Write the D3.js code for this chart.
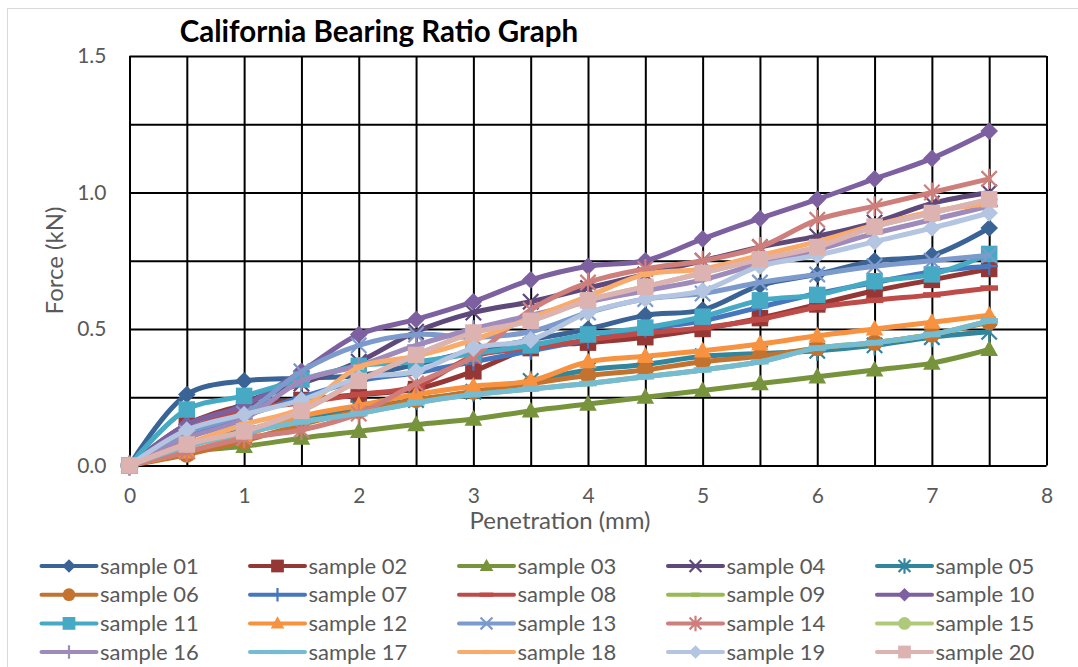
<!DOCTYPE html>
<html><head><meta charset="utf-8">
<script src="https://cdn.jsdelivr.net/npm/d3@7"></script>
<style>body{margin:0;background:#fff;} text{font-family:Lato,"Open Sans",sans-serif;}</style>
</head><body>
<script>
const penetration = [0,0.5,1,1.5,2,2.5,3,3.5,4,4.5,5,5.5,6,6.5,7,7.5];
const seriesNames = ["sample 01","sample 02","sample 03","sample 04","sample 05","sample 06","sample 07","sample 08","sample 09","sample 10",
  "sample 11","sample 12","sample 13","sample 14","sample 15","sample 16","sample 17","sample 18","sample 19","sample 20"];
const s01 = [0,0.26,0.31,0.32,0.33,0.37,0.42,0.46,0.50,0.55,0.57,0.66,0.70,0.75,0.77,0.87];
const s02 = [0,0.15,0.22,0.24,0.26,0.28,0.345,0.43,0.45,0.47,0.50,0.54,0.59,0.64,0.68,0.72];
const s03 = [0,0.05,0.07,0.10,0.125,0.15,0.17,0.20,0.225,0.25,0.275,0.30,0.325,0.35,0.375,0.425];
const s04 = [0,0.10,0.23,0.30,0.38,0.49,0.56,0.60,0.65,0.70,0.75,0.80,0.84,0.89,0.96,1.00];
const s05 = [0,0.08,0.13,0.17,0.21,0.24,0.27,0.31,0.35,0.37,0.40,0.41,0.42,0.44,0.47,0.49];
const s06 = [0,0.04,0.09,0.15,0.20,0.24,0.27,0.30,0.33,0.35,0.38,0.40,0.43,0.45,0.48,0.525];
const s07 = [0,0.10,0.18,0.25,0.31,0.34,0.38,0.42,0.46,0.50,0.53,0.58,0.63,0.67,0.71,0.73];
const s08 = [0,0.13,0.20,0.23,0.26,0.29,0.40,0.43,0.46,0.485,0.505,0.535,0.58,0.605,0.625,0.65];
const s09 = [0,0.07,0.12,0.16,0.19,0.23,0.26,0.28,0.30,0.325,0.35,0.38,0.43,0.45,0.48,0.53];
const s10 = [0,0.15,0.22,0.345,0.48,0.535,0.60,0.68,0.73,0.75,0.83,0.905,0.975,1.05,1.125,1.225];
const s11 = [0,0.205,0.255,0.315,0.365,0.38,0.41,0.44,0.48,0.505,0.545,0.605,0.625,0.675,0.70,0.775];
const s12 = [0,0.05,0.11,0.18,0.22,0.26,0.29,0.31,0.38,0.40,0.42,0.445,0.475,0.50,0.525,0.55];
const s13 = [0,0.12,0.19,0.345,0.44,0.48,0.47,0.49,0.56,0.61,0.63,0.67,0.70,0.73,0.75,0.77];
const s14 = [0,0.05,0.10,0.13,0.19,0.30,0.40,0.57,0.67,0.72,0.75,0.80,0.90,0.95,1.00,1.05];
const s15 = [0,0.077,0.125,0.20,0.31,0.405,0.487,0.53,0.605,0.655,0.705,0.755,0.80,0.875,0.925,0.975];
const s16 = [0,0.10,0.17,0.31,0.365,0.44,0.50,0.55,0.60,0.64,0.68,0.74,0.79,0.85,0.90,0.95];
const s17 = [0,0.07,0.12,0.16,0.19,0.23,0.26,0.28,0.30,0.325,0.35,0.38,0.43,0.45,0.48,0.53];
const s18 = [0,0.08,0.15,0.21,0.36,0.40,0.46,0.54,0.62,0.70,0.72,0.77,0.82,0.88,0.93,0.96];
const s19 = [0,0.13,0.187,0.24,0.32,0.345,0.43,0.46,0.56,0.61,0.64,0.73,0.77,0.82,0.87,0.925];
const s20 = [0,0.077,0.125,0.20,0.31,0.405,0.487,0.53,0.605,0.655,0.705,0.755,0.80,0.875,0.925,0.975];
const seriesValues = [s01,s02,s03,s04,s05,s06,s07,s08,s09,s10,s11,s12,s13,s14,s15,s16,s17,s18,s19,s20];
const seriesColors = ["#3A6496","#953735","#77933C","#5F497A","#31859C","#C3732F","#4677BE","#BE4B48","#98B954","#7D60A0",
  "#46AAC5","#F69240","#7C9ACC","#CE7E7B","#AFC97A","#9E8BBB","#75BBD1","#F9AB6B","#B3C5E0","#DDB3B2"];
const seriesMarkers = ["diamond","square","triangle","x","star","circle","plus","dash","shortdash","diamond",
  "square","triangle","x","star","circle","plus","dash","shortdash","diamond","square"];
const xTickLabels = [0,1,2,3,4,5,6,7,8];
const yTickLabels = [0,0.5,1.0,1.5];
const xGridValues = [0,0.5,1,1.5,2,2.5,3,3.5,4,4.5,5,5.5,6,6.5,7,7.5,8];
const yGridValues = [0,0.25,0.5,0.75,1.0,1.25,1.5];
const chartTitle = "California Bearing Ratio Graph";
const xTitle = "Penetration (mm)";
const yTitle = "Force (kN)";

const W = 1078, H = 667;
const svg = d3.select("body").append("svg").attr("width", W).attr("height", H);
svg.append("rect").attr("x",7.5).attr("y",8.5).attr("width",W).attr("height",H).attr("fill","#fff").attr("stroke","#D9D9D9");

const x = d3.scaleLinear().domain([0,8]).range([129.5,1046.5]);
const y = d3.scaleLinear().domain([0,1.5]).range([465.5,56]);

// grid
const grid = svg.append("g");
grid.append("g").attr("transform",`translate(0,${y(0)})`)
  .call(d3.axisBottom(x).tickValues(xGridValues).tickSize(-(y(0)-y(1.5))).tickFormat(""))
  .call(g=>g.select(".domain").remove())
  .call(g=>g.selectAll("line").attr("stroke","#000").attr("stroke-width",2));
grid.append("g").attr("transform",`translate(${x(0)},0)`)
  .call(d3.axisLeft(y).tickValues(yGridValues).tickSize(-(x(8)-x(0))).tickFormat(""))
  .call(g=>g.select(".domain").remove())
  .call(g=>g.selectAll("line").attr("stroke","#000").attr("stroke-width",2));

// axis labels
const ax = svg.append("g").attr("transform",`translate(0,${y(0)})`)
  .call(d3.axisBottom(x).tickValues(xTickLabels).tickSize(0).tickPadding(23).tickFormat(d3.format("d")));
ax.select(".domain").remove();
ax.selectAll("text").attr("fill","#595959").style("font-size","21px").style("font-family","Lato");
const ay = svg.append("g").attr("transform",`translate(${x(0)},0)`)
  .call(d3.axisLeft(y).tickValues(yTickLabels).tickSize(0).tickPadding(23).tickFormat(d3.format(".1f")));
ay.select(".domain").remove();
ay.selectAll("text").attr("fill","#595959").style("font-size","21px").style("font-family","Lato");

svg.append("text").attr("x",379).attr("y",42).attr("text-anchor","middle")
  .style("font-size","29.5px").style("font-weight","bold").attr("fill","#000").text(chartTitle);
svg.append("text").attr("x",560).attr("y",529).attr("text-anchor","middle")
  .style("font-size","24px").attr("fill","#595959").text(xTitle);
svg.append("text").attr("transform","translate(63,260.5) rotate(-90)").attr("text-anchor","middle")
  .style("font-size","24px").attr("fill","#595959").text(yTitle);

function markerPath(type, k){
  const r = 8*k;
  switch(type){
    case "diamond": return `M0,${-r}L${r},0L0,${r}L${-r},0Z`;
    case "square": { const h=7.5*k; return `M${-h},${-h}H${h}V${h}H${-h}Z`; }
    case "triangle": { const h=8*k; return `M0,${-h*1.05}L${h},${h*0.75}L${-h},${h*0.75}Z`; }
    case "circle": { const c=7.5*k; return `M${c},0A${c},${c} 0 1,1 ${-c},0A${c},${c} 0 1,1 ${c},0Z`; }
    case "x": { const h=7*k; return `M${-h},${-h}L${h},${h}M${-h},${h}L${h},${-h}`; }
    case "star": { const h=7*k; return `M${-h},${-h}L${h},${h}M${-h},${h}L${h},${-h}M0,${-h*1.3}V${h*1.3}`; }
    case "plus": { const h=8*k; return `M${-h},0H${h}M0,${-h}V${h}`; }
    case "dash": { const w=8*k, t=2.5*k; return `M${-w},${-t}H${w}V${t}H${-w}Z`; }
    case "shortdash": { const w=5*k, t=2.5*k; return `M${-w},${-t}H${w}V${t}H${-w}Z`; }
  }
}
const stroked = new Set(["x","star","plus"]);
function drawMarker(sel, type, color, k){
  const p = sel.append("path").attr("d", markerPath(type,k));
  if (stroked.has(type)) p.attr("fill","none").attr("stroke",color).attr("stroke-width",2.2);
  else p.attr("fill",color).attr("stroke","none");
  return p;
}

const line = d3.line().x(d=>x(d[0])).y(d=>y(d[1])).curve(d3.curveCatmullRom.alpha(0.5));
const plot = svg.append("g");
seriesValues.forEach((vals,i)=>{
  const pts = vals.map((v,j)=>[penetration[j],v]);
  const g = plot.append("g");
  g.append("path").datum(pts).attr("d",line).attr("fill","none")
    .attr("stroke",seriesColors[i]).attr("stroke-width",5).attr("stroke-linejoin","round").attr("stroke-linecap","round");
  pts.forEach(p=>{
    const mg = g.append("g").attr("transform",`translate(${x(p[0])},${y(p[1])})`);
    drawMarker(mg, seriesMarkers[i], seriesColors[i], 1.1);
  });
});

// legend
const legend = svg.append("g");
const colX = [41.5,250,459,668,877];
const rowY = [566,594.7,623.4,652];
seriesNames.forEach((name,i)=>{
  const c = i%5, r = Math.floor(i/5);
  const g = legend.append("g").attr("transform",`translate(${colX[c]},${rowY[r]})`);
  g.append("line").attr("x1",0).attr("x2",55).attr("y1",0).attr("y2",0)
    .attr("stroke",seriesColors[i]).attr("stroke-width",4).attr("stroke-linecap","round");
  const mg = g.append("g").attr("transform","translate(27.5,0)");
  drawMarker(mg, seriesMarkers[i], seriesColors[i], 0.85);
  g.append("text").attr("x",58.5).attr("y",7.5).style("font-size","22px").attr("fill","#595959").text(name);
});
</script>
</body></html>
